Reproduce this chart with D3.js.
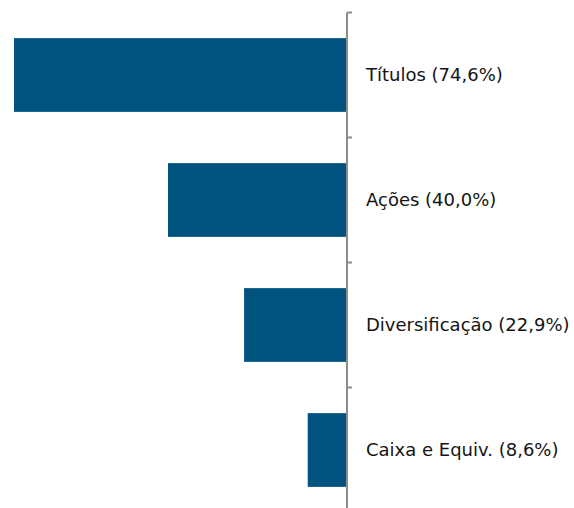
<!doctype html>
<html>
<head>
    <meta charset="utf-8">
    <style>
        body { margin: 0; background: #fff; }
        .label { font-family: "DejaVu Sans", sans-serif; font-size: 18px; fill: #141414; }
        .bar { fill: #00547f; }
        .axis path, .axis line { stroke: #8c8c8c; stroke-width: 2; }
    </style>
</head>
<body>
<div id="chart"></div>
<script src="https://d3js.org/d3.v7.min.js"></script>
<script>
    // asset classes and their weight (%)
    var categories = ["Títulos", "Ações", "Diversificação", "Caixa e Equiv."];
    var values = [74.6, 40.0, 22.9, 8.6];
    var valueLabels = ["74,6%", "40,0%", "22,9%", "8,6%"];

    var width = 574, height = 508;
    var axisX = 346;

    var svg = d3.select("#chart").append("svg")
        .attr("width", width)
        .attr("height", height);

    var x = d3.scaleLinear()
        .domain([0, 74.6])
        .range([axisX, 14]);

    var y = d3.scaleBand()
        .domain(categories)
        .range([12.5, 512.5])
        .paddingInner(0.41)
        .paddingOuter(0.205);

    // bars grow leftwards from the axis
    svg.selectAll(".bar")
        .data(values)
        .enter().append("rect")
        .attr("class", "bar")
        .attr("x", function (d) { return x(d); })
        .attr("y", function (d, i) { return y(categories[i]); })
        .attr("width", function (d) { return x(0) - x(d); })
        .attr("height", y.bandwidth());

    // vertical axis with ticks at band boundaries
    var bounds = categories.map(function (c) { return y(c) - y.step() * y.paddingOuter(); });
    var g = svg.append("g").attr("class", "axis");
    g.append("line")
        .attr("x1", axisX + 1).attr("x2", axisX + 1)
        .attr("y1", 12.5).attr("y2", height);
    g.selectAll(".tick")
        .data(bounds)
        .enter().append("line")
        .attr("x1", axisX + 1).attr("x2", axisX + 6)
        .attr("y1", function (d) { return d; })
        .attr("y2", function (d) { return d; });

    svg.selectAll(".label")
        .data(categories)
        .enter().append("text")
        .attr("class", "label")
        .attr("x", 366)
        .attr("y", function (d) { return y(d) + y.bandwidth() / 2; })
        .attr("dy", "0.35em")
        .text(function (d, i) { return d + " (" + valueLabels[i] + ")"; });
</script>
</body>
</html>
